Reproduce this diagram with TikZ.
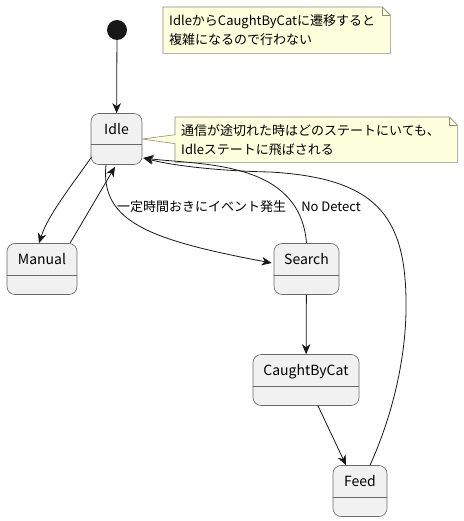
\documentclass[tikz,border=0pt]{standalone}
\usepackage{fontspec}
\setmainfont{Noto Sans CJK JP}
\usetikzlibrary{arrows.meta,backgrounds}
\definecolor{kante}{RGB}{24,24,24}
\definecolor{zustand}{RGB}{241,241,241}
\definecolor{rahmen}{RGB}{105,105,105}
\definecolor{notiz}{RGB}{254,255,221}
\definecolor{notizrand}{RGB}{140,140,120}

\begin{document}
\begin{tikzpicture}[x=1pt, y=-1pt, >={Stealth[length=10pt,width=8.5pt,inset=3pt]},
    state/.style={draw=rahmen, fill=zustand, line width=0.6pt, rounded corners=8pt,
        inner xsep=0pt, inner ysep=0pt, text height=21pt, text depth=30pt,
        font=\fontsize{14}{16}\selectfont},
    note/.style={inner xsep=6pt, inner ysep=0pt, align=left, anchor=north west,
        font=\fontsize{13}{19}\selectfont},
    notebox/.style={notizrand, fill=notiz, line width=0.6pt},
    edge/.style={kante, line width=0.8pt, ->},
    elabel/.style={font=\fontsize{13}{15}\selectfont, inner sep=0pt}]

    \useasboundingbox (0,0) rectangle (463,521);

    % states
    \node[circle, fill=kante, minimum size=20pt, inner sep=0pt] (start) at (117,30) {};
    \node[state, minimum width=51pt] (idle) at (116.5,139) {Idle};
    \node[state, minimum width=70pt] (manual) at (42,269) {Manual};
    \node[state, minimum width=65pt] (search) at (306.5,269) {Search};
    \node[state, minimum width=106pt] (caught) at (306,380) {CaughtByCat};
    \node[state, minimum width=54pt] (feed) at (360,491) {Feed};
    \foreach \s in {idle,manual,search,caught,feed}
        \draw[rahmen, line width=0.6pt] ([yshift=20pt]\s.south west) -- ([yshift=20pt]\s.south east);

    % notes
    \node[note, text width=215pt, minimum height=46pt] (note1) at (163,7)
        {IdleからCaughtByCatに遷移すると\\複雑になるので行わない};
    \node[note, text width=270pt, minimum height=45pt] (note2) at (175,117)
        {通信が途切れた時はどのステートにいても、\\Idleステートに飛ばされる};

    \begin{scope}[on background layer]
    \draw[notebox] (note1.south west) -- (note1.north west)
        -- ([xshift=-8pt]note1.north east) -- ([yshift=-8pt]note1.north east) -- (note1.south east) -- cycle;
    \draw[notebox] (note2.south west) -- ([yshift=-4pt]note2.west)
        -- (idle.east) -- ([yshift=5pt]note2.west) -- (note2.north west)
        -- ([xshift=-8pt]note2.north east) -- ([yshift=-8pt]note2.north east) -- (note2.south east) -- cycle;
    \end{scope}
    \foreach \n in {note1,note2}
        \draw[notizrand, line width=0.6pt] ([xshift=-8pt]\n.north east) -- ([xshift=-8pt,yshift=-8pt]\n.north east)
            -- ([yshift=-8pt]\n.north east);

    % transitions
    \draw[edge] (start) -- (idle);
    \draw[edge] ([xshift=1pt,yshift=8pt]idle.south west) .. controls (72,185) and (48,215) .. ([xshift=-3pt]manual.north);
    \draw[edge] ([xshift=28pt]manual.north) -- ([xshift=-1.5pt,yshift=-2pt]idle.south);
    \draw[edge] ([xshift=-10.5pt]idle.south) .. controls (100,222) and (150,240) .. ([xshift=-2pt,yshift=6pt]search.west);
    \draw[edge] (search.north) .. controls (300,160) and (200,165) .. ([xshift=1pt,yshift=-19pt]idle.east);
    \draw[edge] (search) -- (caught);
    \draw[edge] ([xshift=12pt]caught.south) -- ([xshift=-14pt]feed.north);
    \draw[edge] ([xshift=10pt]feed.north) .. controls (395,410) and (407,350) .. (406,300)
        .. controls (405,215) and (375,178) .. (270,172)
        .. controls (220,171) and (175,166) .. ([xshift=1pt,yshift=-19pt]idle.east);

    \node[elabel, anchor=west] (lblevent) at (117,207) {一定時間おきにイベント発生};
    \node[elabel] (lbldetect) at (331,207) {No Detect};

\end{tikzpicture}
\end{document}
